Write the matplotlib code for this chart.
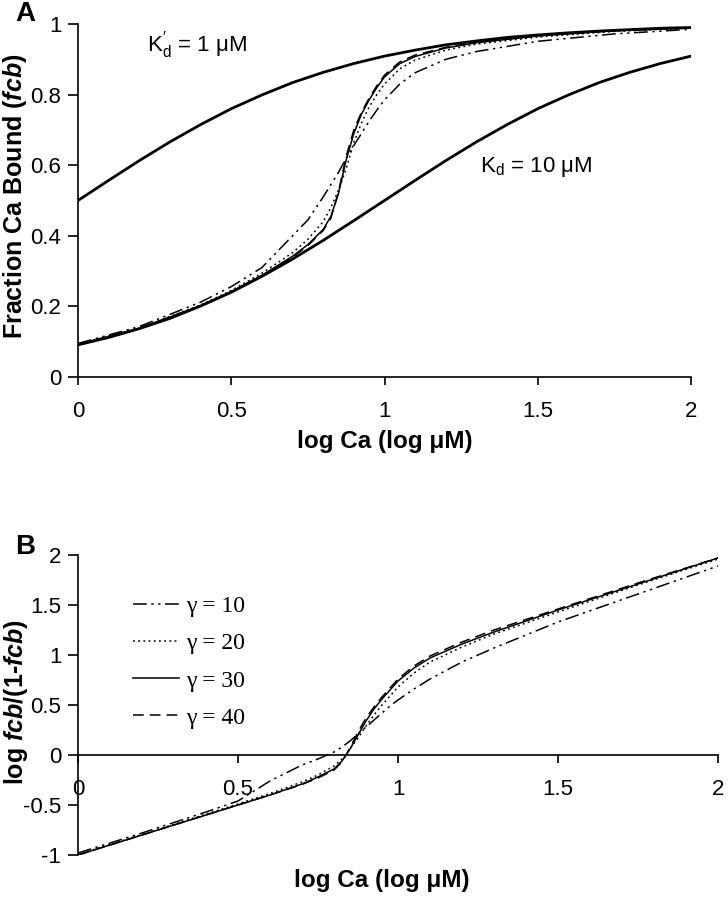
import matplotlib
matplotlib.use("Agg")
import matplotlib.pyplot as plt

plt.rcParams['font.family'] = ['Liberation Sans', 'DejaVu Sans']
plt.rcParams['mathtext.fontset'] = 'custom'
plt.rcParams['mathtext.rm'] = 'Liberation Sans'
plt.rcParams['mathtext.it'] = 'Liberation Sans:italic:bold'
plt.rcParams['mathtext.bf'] = 'Liberation Sans:bold'

# ---------------- data ----------------
# Panel A: single-site curves
x_kd = [0.0, 0.1, 0.2, 0.3, 0.4, 0.5, 0.6, 0.7, 0.8, 0.9, 1.0,
        1.1, 1.2, 1.3, 1.4, 1.5, 1.6, 1.7, 1.8, 1.9, 2.0]
fcb_kd1 = [0.500, 0.557, 0.613, 0.666, 0.715, 0.760, 0.799, 0.834, 0.863, 0.888, 0.909,
           0.926, 0.941, 0.952, 0.962, 0.969, 0.975, 0.980, 0.984, 0.988, 0.990]
fcb_kd10 = [0.091, 0.112, 0.137, 0.166, 0.201, 0.240, 0.285, 0.334, 0.387, 0.443, 0.500,
            0.557, 0.613, 0.666, 0.715, 0.760, 0.799, 0.834, 0.863, 0.888, 0.909]

# Cooperative curves (gamma = 10, 20, 30, 40)
x_g = [0.0, 0.2, 0.4, 0.5, 0.6, 0.7, 0.75, 0.8, 0.825, 0.85, 0.875, 0.9, 0.925,
       0.95, 0.975, 1.0, 1.05, 1.1, 1.2, 1.3, 1.5, 1.75, 2.0]
fcb_g10 = [0.095, 0.143, 0.212, 0.256, 0.31, 0.40, 0.445, 0.51, 0.545, 0.58, 0.62, 0.656,
           0.69, 0.725, 0.756, 0.785, 0.83, 0.862, 0.90, 0.922, 0.951, 0.972, 0.985]
fcb_g20 = [0.093, 0.139, 0.204, 0.245, 0.294, 0.352, 0.39, 0.44, 0.48, 0.53, 0.59, 0.665,
           0.72, 0.765, 0.80, 0.83, 0.873, 0.898, 0.926, 0.943, 0.963, 0.979, 0.988]
fcb_g30 = [0.092, 0.138, 0.202, 0.242, 0.288, 0.342, 0.375, 0.418, 0.455, 0.52, 0.615, 0.69,
           0.745, 0.785, 0.82, 0.85, 0.888, 0.908, 0.932, 0.947, 0.966, 0.981, 0.989]
fcb_g40 = [0.092, 0.138, 0.202, 0.241, 0.287, 0.340, 0.372, 0.415, 0.45, 0.525, 0.625, 0.70,
           0.75, 0.79, 0.825, 0.855, 0.893, 0.912, 0.934, 0.948, 0.967, 0.981, 0.989]

# Panel B: log fcb/(1-fcb)
lr_g10 = [-0.98, -0.78, -0.57, -0.46, -0.26, -0.10, -0.04, 0.03, 0.08, 0.14, 0.21, 0.28,
          0.35, 0.42, 0.49, 0.55, 0.66, 0.76, 0.93, 1.07, 1.33, 1.61, 1.89]
lr_g20 = [-0.995, -0.795, -0.59, -0.49, -0.385, -0.27, -0.20, -0.11, -0.04, 0.06, 0.17, 0.29,
          0.40, 0.50, 0.59, 0.68, 0.82, 0.93, 1.08, 1.21, 1.43, 1.70, 1.96]
lr_g30 = [-1.0, -0.80, -0.60, -0.50, -0.40, -0.29, -0.22, -0.14, -0.06, 0.06, 0.20, 0.34,
          0.46, 0.56, 0.65, 0.74, 0.87, 0.97, 1.11, 1.23, 1.45, 1.71, 1.97]
lr_g40 = [-1.0, -0.80, -0.60, -0.50, -0.40, -0.295, -0.23, -0.15, -0.07, 0.07, 0.23, 0.37,
          0.48, 0.58, 0.67, 0.76, 0.89, 0.99, 1.13, 1.25, 1.46, 1.72, 1.97]

gamma_labels = ["γ = 10", "γ = 20", "γ = 30", "γ = 40"]
xticks = [0, 0.5, 1, 1.5, 2]
xticklabels = ["0", "0.5", "1", "1.5", "2"]
yticks_a = [0, 0.2, 0.4, 0.6, 0.8, 1]
yticklabels_a = ["0", "0.2", "0.4", "0.6", "0.8", "1"]
yticks_b = [-1, -0.5, 0, 0.5, 1, 1.5, 2]
yticklabels_b = ["-1", "-0.5", "0", "0.5", "1", "1.5", "2"]

styles = [(0, (9, 3, 1.5, 3, 1.5, 3)), (0, (1.2, 2.2)), '-', (0, (7, 4))]

W, H = 728, 899
fig = plt.figure(figsize=(W / 100, H / 100), dpi=100)

def rect(l, r, t, b):
    return [l / W, 1 - b / H, (r - l) / W, (b - t) / H]

TICKFS = 16
LABFS = 17.5

# ---------------- Panel A ----------------
axA = fig.add_axes(rect(78, 691, 24, 377))
axA.plot(x_kd, fcb_kd1, color='black', lw=2.0, zorder=3)
axA.plot(x_kd, fcb_kd10, color='black', lw=2.0, zorder=3)
for ys, ls in zip([fcb_g10, fcb_g20, fcb_g30, fcb_g40], styles):
    axA.plot(x_g, ys, color='black', lw=1.1, linestyle=ls)
axA.set_xlim(0, 2)
axA.set_ylim(0, 1)
axA.set_xticks(xticks)
axA.set_xticklabels(xticklabels)
axA.set_yticks(yticks_a)
axA.set_yticklabels(yticklabels_a)
for s in ['top', 'right']:
    axA.spines[s].set_visible(False)
for s in ['left', 'bottom']:
    axA.spines[s].set_linewidth(1.2)
axA.tick_params(axis='x', direction='out', length=6, width=1.2, pad=11, labelsize=TICKFS)
axA.tick_params(axis='y', direction='out', length=7, width=1.2, pad=5, labelsize=TICKFS)
axA.set_xlabel("log Ca (log μM)", fontsize=LABFS, fontweight='bold')
axA.xaxis.set_label_coords(0.5, (377 - 430) / 353)
axA.set_ylabel(r"Fraction Ca Bound ($\mathit{fcb}$)", fontsize=18, fontweight='bold')
axA.yaxis.set_label_coords((15 - 78) / 613, (377 - 196) / 353)
axA.yaxis.label.set_va('center')
axA.text(0.225, 0.94, r"$\mathregular{K_{d}^{\prime}}$ = 1 μM", fontsize=TICKFS, va='center', ha='left')
axA.text(1.31, 0.595, r"$\mathregular{K_{d}}$ = 10 μM", fontsize=TICKFS, va='center', ha='left')

# ---------------- Panel B ----------------
axB = fig.add_axes(rect(78, 718, 555, 855))
handles = []
for ys, ls, lab in zip([lr_g10, lr_g20, lr_g30, lr_g40], styles, gamma_labels):
    h, = axB.plot(x_g, ys, color='black', lw=1.1, linestyle=ls, label=lab)
    handles.append(h)
axB.set_xlim(0, 2)
axB.set_ylim(-1, 2)
axB.spines['bottom'].set_position(('data', 0))
for s in ['top', 'right']:
    axB.spines[s].set_visible(False)
for s in ['left', 'bottom']:
    axB.spines[s].set_linewidth(1.2)
axB.set_xticks(xticks)
axB.set_xticklabels(xticklabels)
axB.set_yticks(yticks_b)
axB.set_yticklabels(yticklabels_b)
axB.tick_params(axis='x', direction='out', length=6, width=1.2, pad=11, labelsize=TICKFS)
axB.tick_params(axis='y', direction='out', length=7, width=1.2, pad=5, labelsize=TICKFS)
axB.set_xlabel("log Ca (log μM)", fontsize=LABFS, fontweight='bold')
axB.xaxis.set_label_coords(0.475, (855 - 869) / 300)
axB.set_ylabel(r"log $\mathit{fcb}$/(1-$\mathit{fcb}$)", fontsize=18, fontweight='bold')
axB.yaxis.set_label_coords((16 - 78) / 640, (855 - 702) / 300)
axB.yaxis.label.set_va('center')
leg = axB.legend(handles=handles, loc='upper left', bbox_to_anchor=(0.052, 0.935),
                 frameon=False, handlelength=1.95, handletextpad=0.3, labelspacing=0.66,
                 prop={'family': 'Liberation Serif', 'size': 17})

fig.text(15 / W, 1 - 14 / H, "A", fontsize=20, fontweight='bold', ha='left', va='center')
fig.text(15 / W, 1 - 547 / H, "B", fontsize=20, fontweight='bold', ha='left', va='center')

fig.savefig("out.png", dpi=100)
